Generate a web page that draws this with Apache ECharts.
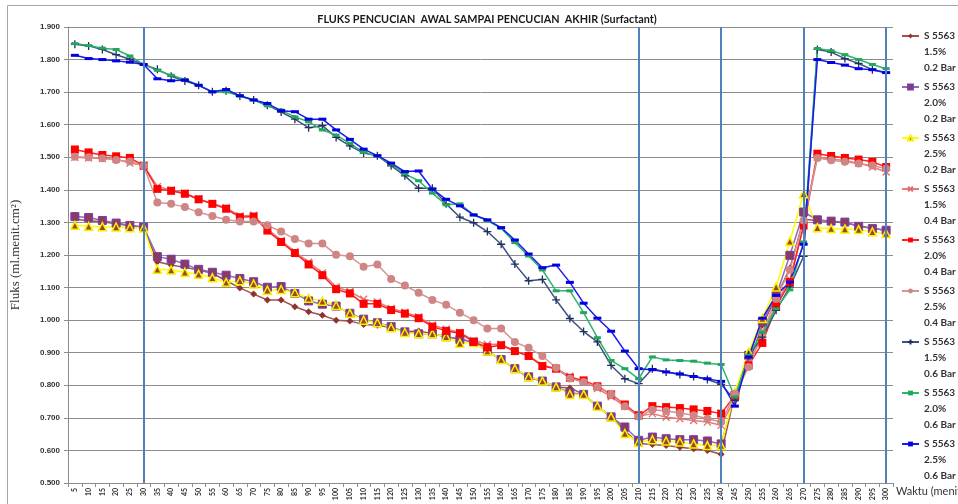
<!DOCTYPE html>
<html>
<head>
<meta charset="utf-8">
<script src="https://cdn.jsdelivr.net/npm/echarts@6/dist/echarts.min.js"></script>
<style>
  html, body { margin: 0; padding: 0; background: #fff; }
  #chart { width: 958px; height: 504px; }
</style>
</head>
<body>
<div id="chart"></div>
<script>
// Time axis (minutes)
const waktu = ['5','10','15','20','25','30','35','40','45','50','55','60','65','70','75','80','85','90','95','100',
  '105','110','115','120','125','130','135','140','145','150','155','160','165','170','175','180','185','190','195','200',
  '205','210','215','220','225','230','235','240','245','250','255','260','265','270','275','280','285','290','295','300'];

// Phase boundaries (minutes)
const batasFase = ['30', '210', '240', '270', '300'];

// Flux per run, ml/menit.cm2
const s15_02 = [1.310, 1.305, 1.302, 1.296, 1.290, 1.285,
  1.179, 1.169, 1.162, 1.154, 1.144, 1.121, 1.099, 1.080, 1.062, 1.062,
  1.041, 1.026, 1.015, 1.000, 0.997, 0.987, 0.984, 0.977, 0.964, 0.967,
  0.958, 0.949, 0.941, 0.933, 0.905, 0.879, 0.851, 0.823, 0.813, 0.795,
  0.792, 0.772, 0.736, 0.703, 0.660, 0.621,
  0.618, 0.615, 0.610, 0.605, 0.600, 0.588,
  0.774, 0.866, 0.985, 1.070, 1.160, 1.310,
  1.306, 1.303, 1.298, 1.290, 1.282, 1.276];

const s20_02 = [1.318, 1.315, 1.306, 1.298, 1.291, 1.286,
  1.195, 1.187, 1.172, 1.156, 1.147, 1.138, 1.128, 1.118, 1.101, 1.103,
  1.082, 1.059, 1.049, 1.043, 1.021, 1.003, 0.992, 0.980, 0.964, 0.958,
  0.958, 0.949, 0.941, 0.933, 0.905, 0.879, 0.851, 0.826, 0.813, 0.795,
  0.777, 0.772, 0.736, 0.703, 0.672, 0.631,
  0.641, 0.636, 0.633, 0.633, 0.629, 0.620,
  0.769, 0.892, 0.995, 1.076, 1.199, 1.332,
  1.308, 1.304, 1.301, 1.288, 1.281, 1.276];

const s25_02 = [1.291, 1.288, 1.287, 1.286, 1.284, 1.283,
  1.156, 1.154, 1.147, 1.141, 1.130, 1.116, 1.121, 1.111, 1.092, 1.094,
  1.084, 1.067, 1.058, 1.045, 1.021, 1.000, 0.992, 0.977, 0.962, 0.958,
  0.958, 0.949, 0.929, 0.931, 0.905, 0.879, 0.851, 0.826, 0.813, 0.795,
  0.772, 0.772, 0.736, 0.703, 0.652, 0.625,
  0.633, 0.629, 0.626, 0.620, 0.615, 0.615,
  0.779, 0.902, 1.005, 1.102, 1.242, 1.388,
  1.284, 1.281, 1.280, 1.278, 1.271, 1.266];

const s15_04 = [1.500, 1.498, 1.496, 1.494, 1.482, 1.476,
  1.410, 1.400, 1.390, 1.372, 1.358, 1.345, 1.320, 1.322, 1.280, 1.245,
  1.210, 1.178, 1.145, 1.102, 1.088, 1.064, 1.056, 1.036, 1.024, 1.010,
  0.985, 0.972, 0.962, 0.938, 0.925, 0.926, 0.905, 0.890, 0.862, 0.851,
  0.828, 0.812, 0.790, 0.765, 0.735, 0.705,
  0.713, 0.702, 0.697, 0.692, 0.687, 0.677,
  0.760, 0.870, 0.950, 1.050, 1.125, 1.290,
  1.500, 1.495, 1.490, 1.482, 1.470, 1.455];

const s20_04 = [1.524, 1.515, 1.507, 1.503, 1.498, 1.474,
  1.403, 1.397, 1.388, 1.371, 1.357, 1.342, 1.316, 1.318, 1.275, 1.240,
  1.206, 1.171, 1.138, 1.095, 1.082, 1.050, 1.050, 1.031, 1.020, 1.006,
  0.980, 0.967, 0.960, 0.933, 0.917, 0.923, 0.905, 0.890, 0.859, 0.851,
  0.823, 0.815, 0.797, 0.772, 0.741, 0.708,
  0.736, 0.733, 0.730, 0.726, 0.721, 0.713,
  0.769, 0.861, 0.930, 1.042, 1.117, 1.291,
  1.511, 1.504, 1.498, 1.493, 1.486, 1.470];

const s25_04 = [1.502, 1.500, 1.497, 1.492, 1.487, 1.474,
  1.361, 1.357, 1.347, 1.331, 1.320, 1.308, 1.303, 1.303, 1.291, 1.272,
  1.249, 1.235, 1.235, 1.201, 1.196, 1.164, 1.171, 1.126, 1.106, 1.084,
  1.062, 1.047, 1.023, 1.000, 0.974, 0.974, 0.933, 0.915, 0.890, 0.854,
  0.821, 0.810, 0.795, 0.772, 0.736, 0.704,
  0.725, 0.721, 0.715, 0.708, 0.697, 0.687,
  0.774, 0.856, 0.960, 1.066, 1.155, 1.306,
  1.498, 1.491, 1.486, 1.481, 1.475, 1.465];

const s15_06 = [1.847, 1.842, 1.831, 1.815, 1.801, 1.785,
  1.770, 1.749, 1.734, 1.721, 1.701, 1.704, 1.688, 1.676, 1.660, 1.639,
  1.617, 1.591, 1.597, 1.561, 1.535, 1.513, 1.505, 1.474, 1.443, 1.405,
  1.405, 1.357, 1.316, 1.299, 1.272, 1.233, 1.172, 1.121, 1.125, 1.062,
  1.005, 0.965, 0.933, 0.861, 0.820, 0.805,
  0.851, 0.841, 0.833, 0.827, 0.818, 0.803,
  0.754, 0.892, 0.948, 1.030, 1.102, 1.196,
  1.831, 1.823, 1.803, 1.788, 1.769, 1.759];

const s20_06 = [1.849, 1.843, 1.835, 1.831, 1.811, 1.785,
  1.767, 1.752, 1.739, 1.721, 1.701, 1.701, 1.688, 1.676, 1.658, 1.645,
  1.624, 1.609, 1.584, 1.568, 1.543, 1.515, 1.505, 1.479, 1.449, 1.428,
  1.390, 1.354, 1.357, 1.323, 1.306, 1.282, 1.238, 1.197, 1.154, 1.090,
  1.090, 1.023, 0.946, 0.876, 0.851, 0.820,
  0.887, 0.878, 0.876, 0.874, 0.868, 0.864,
  0.764, 0.892, 0.963, 1.035, 1.093, 1.240,
  1.834, 1.827, 1.815, 1.800, 1.785, 1.772];

const s25_06 = [1.813, 1.803, 1.800, 1.796, 1.792, 1.785,
  1.741, 1.735, 1.737, 1.721, 1.701, 1.708, 1.689, 1.676, 1.665, 1.643,
  1.640, 1.617, 1.617, 1.584, 1.555, 1.525, 1.505, 1.482, 1.456, 1.458,
  1.402, 1.371, 1.351, 1.323, 1.308, 1.284, 1.246, 1.203, 1.161, 1.169,
  1.116, 1.052, 1.006, 0.966, 0.905, 0.851,
  0.848, 0.841, 0.835, 0.827, 0.820, 0.812,
  0.736, 0.887, 1.006, 1.076, 1.117, 1.233,
  1.800, 1.791, 1.783, 1.772, 1.769, 1.760];

const namaSeri = [
  'S 5563\n1.5%\n0.2 Bar', 'S 5563\n2.0%\n0.2 Bar', 'S 5563\n2.5%\n0.2 Bar',
  'S 5563\n1.5%\n0.4 Bar', 'S 5563\n2.0%\n0.4 Bar', 'S 5563\n2.5%\n0.4 Bar',
  'S 5563\n1.5%\n0.6 Bar', 'S 5563\n2.0%\n0.6 Bar', 'S 5563\n2.5%\n0.6 Bar'
];

const SYM_X = 'path://M0,0L10,10M10,0L0,10';
const SYM_PLUS = 'path://M5,0L5,10M0,5L10,5';

function seri(name, data, lineColor, symbol, size, item) {
  return {
    name: name,
    type: 'line',
    data: data,
    symbol: symbol,
    symbolSize: size,
    showAllSymbol: true,
    lineStyle: { color: lineColor, width: 1.5 },
    itemStyle: item,
    emphasis: { disabled: true },
    z: 3
  };
}

const series = [
  seri(namaSeri[0], s15_02, '#A0504E', 'diamond', 7, { color: '#8E3533' }),
  seri(namaSeri[1], s20_02, '#8E6BB5', 'rect', 8, { color: '#8A3A66', borderColor: '#7A3CA8', borderWidth: 1 }),
  seri(namaSeri[2], s25_02, '#FFFF00', 'triangle', 8, { color: '#A0461E', borderColor: '#F5F000', borderWidth: 1.5 }),
  seri(namaSeri[3], s15_04, '#E57A7A', SYM_X, 7, { color: '#E57A7A', borderColor: '#E06C6C', borderWidth: 1.3 }),
  seri(namaSeri[4], s20_04, '#FF2020', 'rect', 8, { color: '#FF0000' }),
  seri(namaSeri[5], s25_04, '#D49494', 'circle', 8, { color: '#CF8584' }),
  seri(namaSeri[6], s15_06, '#3E5280', SYM_PLUS, 8, { color: '#1F2F60', borderColor: '#1F2F60', borderWidth: 1.3 }),
  seri(namaSeri[7], s20_06, '#2DB56A', 'rect', [7, 3], { color: '#1FA85C' }),
  seri(namaSeri[8], s25_06, '#1A1AF0', 'rect', [8, 3], { color: '#0000E0' })
];

// Vertical phase separators
series[0].markLine = {
  silent: true,
  symbol: ['none', 'none'],
  label: { show: false },
  emphasis: { disabled: true },
  lineStyle: { color: '#4F81BD', width: 2, type: 'solid' },
  data: batasFase.map(function (w) { return { xAxis: w }; })
};

const chart = echarts.init(document.getElementById('chart'), null, { renderer: 'canvas' });
chart.setOption({
  animation: false,
  backgroundColor: '#ffffff',
  title: {
    text: 'FLUKS PENCUCIAN  AWAL SAMPAI PENCUCIAN  AKHIR (Surfactant)',
    left: 482,
    top: 9,
    textAlign: 'center',
    textStyle: { fontFamily: 'Lato', fontSize: 10.8, fontWeight: 'bold', color: '#1a1a1a' }
  },
  graphic: [{
    type: 'rect',
    shape: { x: 7.5, y: 5.5, width: 1000, height: 600 },
    style: { fill: 'none', stroke: '#a6a6a6', lineWidth: 1 },
    silent: true,
    z: -1
  }],
  legend: {
    orient: 'vertical',
    left: 901,
    top: -4,
    padding: 0,
    itemGap: -29,
    itemWidth: 17,
    itemHeight: 6,
    selectedMode: false,
    data: namaSeri,
    // two leading blank lines keep the icon level with the first text line
    formatter: function (name) { return '\n\n' + name; },
    textStyle: {
      fontFamily: 'Lato', fontSize: 10, fontWeight: 'bold', color: '#333333',
      lineHeight: 16
    }
  },
  grid: { left: 68, right: 65, top: 27, bottom: 21, containLabel: false, outerBoundsMode: 'none' },
  xAxis: {
    type: 'category',
    data: waktu,
    boundaryGap: true,
    name: 'Waktu (menit)',
    nameLocation: 'end',
    nameGap: 3,
    nameTextStyle: { fontFamily: 'Lato', fontSize: 11, color: '#333', verticalAlign: 'top', padding: [3, 0, 0, 0] },
    axisLine: { lineStyle: { color: '#8c8c8c', width: 1 } },
    axisTick: { show: true, alignWithLabel: false, length: 4, interval: 0, lineStyle: { color: '#8c8c8c' } },
    axisLabel: { interval: 0, rotate: 90, margin: 5, fontFamily: 'Lato', fontSize: 7, fontWeight: 'bold', color: '#333' },
    splitLine: { show: false }
  },
  yAxis: {
    type: 'value',
    min: 0.5,
    max: 1.9,
    interval: 0.1,
    name: 'Fluks (ml.menit.cm²)',
    nameLocation: 'middle',
    nameRotate: 90,
    nameGap: 46,
    nameTextStyle: { fontFamily: 'Liberation Serif', fontSize: 13, color: '#333' },
    axisLine: { show: true, lineStyle: { color: '#8c8c8c', width: 1 } },
    axisTick: { show: true, length: 4, lineStyle: { color: '#8c8c8c' } },
    axisLabel: {
      margin: 8,
      fontFamily: 'Liberation Sans', fontSize: 8, fontWeight: 'bold', color: '#333',
      formatter: function (v) { return v.toFixed(3); }
    },
    splitLine: { show: true, lineStyle: { color: '#8c8c8c', width: 1 } }
  },
  series: series
});
</script>
</body>
</html>
